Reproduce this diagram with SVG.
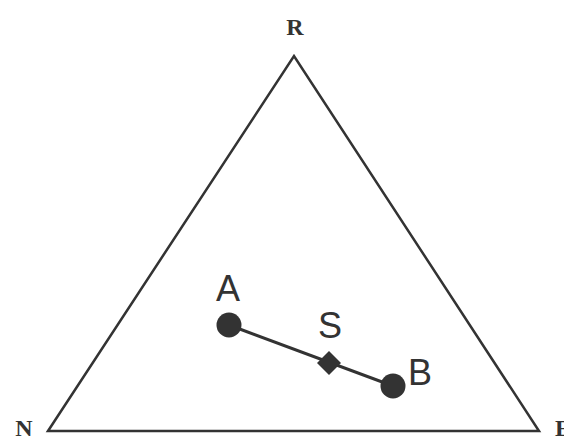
<svg xmlns="http://www.w3.org/2000/svg" width="564" height="437" viewBox="0 0 564 437">
<style>
.lbl{font-family:"Liberation Serif",serif;font-weight:bold;font-size:24px;fill:#333}
.pt{font-family:"Liberation Sans",Arial,sans-serif;font-size:36px;fill:#333}
.dot{fill:#333}
</style>
<rect width="564" height="437" fill="#fff"/>
<g id="triangle">
<polygon points="48,431 294,56 539,431" fill="none" stroke="#333" stroke-width="2.5" stroke-linejoin="miter"/>
</g>
<g id="R"><text class="lbl" x="295" y="35" text-anchor="middle">R</text></g>
<g id="N"><text class="lbl" x="24" y="436" text-anchor="middle">N</text></g>
<g id="E"><text class="lbl" x="555" y="436">E</text></g>
<g id="connectors">
<line x1="229" y1="325" x2="393" y2="386" stroke="#333" stroke-width="3"/>
</g>
<g id="A">
<circle class="dot" cx="229" cy="325" r="12.5"/>
<text class="pt" x="228" y="301" text-anchor="middle">A</text>
</g>
<g id="S">
<polygon class="dot" points="329,351 341,363 329,375 317,363"/>
<text class="pt" x="330" y="338" text-anchor="middle">S</text>
</g>
<g id="B">
<circle class="dot" cx="393" cy="386" r="12.5"/>
<text class="pt" x="420" y="385" text-anchor="middle">B</text>
</g>
</svg>
